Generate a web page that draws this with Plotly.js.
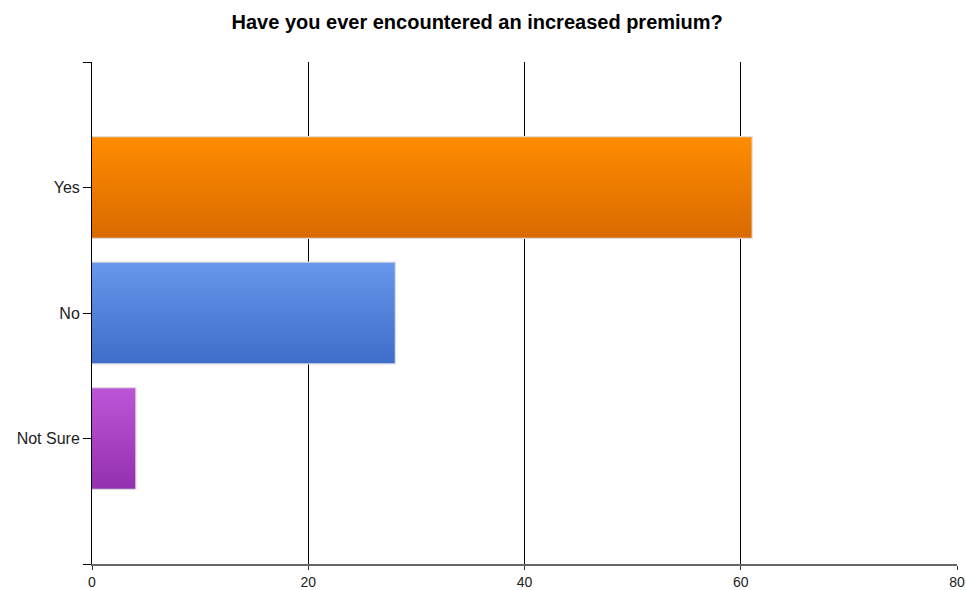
<!DOCTYPE html>
<html>
<head>
<meta charset="utf-8">
<script src="https://cdn.plot.ly/plotly-3.0.1.min.js"></script>
<style>html,body{margin:0;padding:0;background:#fff;}#chart{width:966px;height:590px;}</style>
</head>
<body>
<div id="chart"></div>
<script>
var categories = ["Yes", "No", "Not Sure"];
var values = [61, 28, 4];
var topColors = ["#FF8C00", "#6597EC", "#BC56D8"];
var bottomColors = ["#D96A00", "#3E6EC9", "#9330AE"];
var xTicks = [0, 20, 40, 60, 80];
var titleText = "Have you ever encountered an increased premium?";

var barWidth = 0.8;
var positions = categories.map(function (c, i) { return i; });
var font = "Liberation Sans, Arial, sans-serif";

var traces = [];
// gradient fills for each bar, built from the data values
values.forEach(function (v, i) {
  var y0 = positions[i] - barWidth / 2, y1 = positions[i] + barWidth / 2;
  traces.push({
    type: "scatter", mode: "none",
    x: [0, v, v, 0, 0],
    y: [y0, y0, y1, y1, y0],
    fill: "toself",
    fillgradient: {
      type: "vertical",
      start: y0, stop: y1,
      colorscale: [[0, topColors[i]], [1, bottomColors[i]]]
    },
    hoverinfo: "skip", showlegend: false
  });
});
// bar outlines (the bars themselves)
traces.push({
  type: "bar",
  orientation: "h",
  x: values,
  y: positions,
  width: barWidth,
  marker: { color: "rgba(0,0,0,0)", line: { color: "#DDDDDD", width: 2.5 } },
  text: categories,
  textposition: "none",
  hoverinfo: "x+text",
  showlegend: false
});

var yTickVals = [-1].concat(positions, [categories.length]);
var yTickText = [""].concat(categories, [""]);

var layout = {
  width: 966,
  height: 590,
  paper_bgcolor: "#ffffff",
  plot_bgcolor: "#ffffff",
  margin: { l: 92, r: 9, t: 62, b: 26 },
  showlegend: false,
  title: {
    text: "<b>" + titleText + "</b>",
    x: 0.494, xref: "container", xanchor: "center",
    y: 0.962, yref: "container", yanchor: "middle",
    font: { family: font, size: 20, color: "#000" }
  },
  xaxis: {
    range: [0, 80],
    tickvals: xTicks,
    ticktext: xTicks.map(String),
    showgrid: true, gridcolor: "#000", gridwidth: 1,
    zeroline: false,
    showline: true, linecolor: "#666", linewidth: 2,
    ticks: "outside", ticklen: 4, tickcolor: "#333", tickwidth: 1,
    tickfont: { family: font, size: 14, color: "#222" },
    fixedrange: true
  },
  yaxis: {
    range: [categories.length, -1],
    tickvals: yTickVals,
    ticktext: yTickText,
    showgrid: false, zeroline: false,
    showline: true, linecolor: "#000", linewidth: 1,
    ticks: "outside", ticklen: 8, tickcolor: "#000",
    tickfont: { family: font, size: 16, color: "#222" },
    fixedrange: true
  }
};

Plotly.newPlot("chart", traces, layout, { displayModeBar: false, staticPlot: true });
</script>
</body>
</html>
